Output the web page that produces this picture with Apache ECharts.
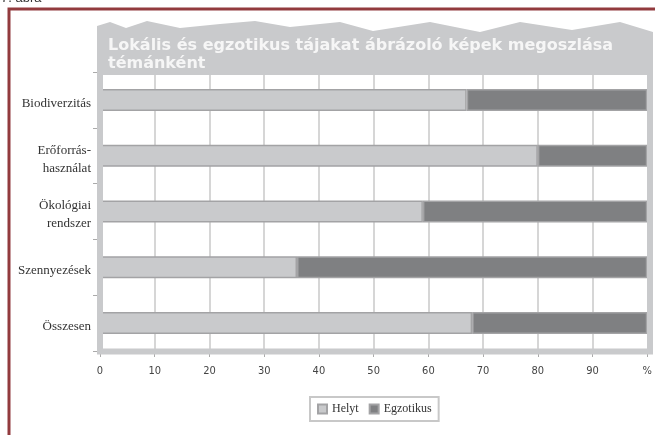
<!DOCTYPE html>
<html lang="hu" style="height: 100%">

<head>
  <meta charset="utf-8">
  <title>Lokális és egzotikus tájak</title>
</head>

<body style="height: 100%; margin: 0; background: #fff">
  <div id="container" style="width: 655px; height: 435px;"></div>

  <script type="text/javascript" src="https://cdn.jsdelivr.net/npm/echarts@6.0.0/dist/echarts.min.js"></script>
  <script type="text/javascript">
    // adatok
    var categories = ['Biodiverzitás', 'Erőforrás-\nhasználat', 'Ökológiai\nrendszer', 'Szennyezések', 'Összesen'];
    var helyiValues = [67, 80, 59, 36, 68];
    var egzotikusValues = [33, 20, 41, 64, 32];
    var xTickLabels = ['0', '10', '20', '30', '40', '50', '60', '70', '80', '90', '%'];
    var seriesNames = ['Helyt', 'Egzotikus'];

    var dom = document.getElementById('container');
    var myChart = echarts.init(dom, null, { renderer: 'canvas' });

    var lightGray = '#c9cacc';
    var darkGray = '#7f8082';
    var serifFont = '"Liberation Serif", "DejaVu Serif", serif';

    var option = {
      animation: false,
      backgroundColor: '#fff',
      grid: {
        left: 100,
        right: 5,
        top: 72,
        bottom: 84,
        show: true,
        backgroundColor: '#fff',
        borderWidth: 0
      },
      xAxis: {
        type: 'value',
        min: 0,
        max: 100,
        interval: 10,
        axisLine: { show: false },
        axisTick: { show: true, length: 6, lineStyle: { color: '#aaa' } },
        splitLine: { show: true, lineStyle: { color: '#d6d6d6', width: 2 } },
        axisLabel: {
          margin: 15,
          fontSize: 11,
          color: '#444',
          fontFamily: '"Liberation Sans Narrow", "DejaVu Sans Condensed", sans-serif',
          formatter: function (v) {
            return xTickLabels[Math.round(v / 10)];
          }
        }
      },
      yAxis: {
        type: 'category',
        data: categories,
        inverse: true,
        axisLine: { show: false },
        axisTick: { show: true, length: 7, lineStyle: { color: '#aaa' } },
        splitLine: { show: false },
        axisLabel: {
          margin: 9,
          color: '#333',
          // a feliratok kicsit lejjebb ülnek, mint a sávok közepe
          formatter: function (v) {
            return v.split('\n').map(function (s) { return '{l|' + s + '}'; }).join('\n');
          },
          rich: {
            l: {
              fontSize: 13,
              fontFamily: serifFont,
              color: '#333',
              lineHeight: 18,
              padding: [7, 0, 0, 0]
            }
          }
        }
      },
      legend: {
        left: 310,
        top: 397,
        data: seriesNames,
        icon: 'rect',
        itemWidth: 9,
        itemHeight: 9,
        itemGap: 10,
        padding: [6, 7],
        borderColor: '#c8c8c8',
        borderWidth: 2,
        textStyle: { fontFamily: serifFont, fontSize: 12, color: '#333' }
      },
      series: [
        {
          name: seriesNames[0],
          type: 'bar',
          stack: 'total',
          barWidth: 22,
          data: helyiValues,
          itemStyle: { color: lightGray, borderColor: '#a3a3a5', borderWidth: 1.5 }
        },
        {
          name: seriesNames[1],
          type: 'bar',
          stack: 'total',
          barWidth: 22,
          data: egzotikusValues,
          itemStyle: { color: darkGray, borderColor: '#a3a3a5', borderWidth: 1.5 }
        }
      ],
      graphic: [
        // külső piros keret
        {
          type: 'rect',
          shape: { x: 9, y: 9, width: 700, height: 480 },
          style: { fill: 'none', stroke: '#923b3e', lineWidth: 3 },
          z: 1
        },
        // ábra felirat (levágva)
        {
          type: 'text',
          x: 1,
          y: 5,
          style: { text: '7. ábra', font: '13px "Liberation Sans", sans-serif', fill: '#333', verticalAlign: 'bottom' }
        },
        // szürke keret a rajzterület körül
        {
          type: 'rect',
          shape: { x: 100, y: 72, width: 550, height: 279.5 },
          style: { fill: 'none', stroke: lightGray, lineWidth: 6 },
          z: 9
        },
        // cím szalag
        {
          type: 'polygon',
          shape: {
            points: [[97, 26], [110, 22], [126, 28], [147, 21], [180, 28], [220, 24], [255, 21],
              [290, 27], [340, 22], [373, 31], [430, 22], [480, 32], [520, 22], [572, 30],
              [620, 22], [653, 32], [653, 75], [97, 75]]
          },
          style: { fill: lightGray },
          z: 10
        },
        {
          type: 'text',
          x: 108,
          y: 37,
          z: 11,
          style: {
            text: 'Lokális és egzotikus tájakat ábrázoló képek megoszlása\ntémánként',
            font: 'bold 16px "DejaVu Sans", sans-serif',
            lineHeight: 18,
            fill: '#f6f6f6',
            shadowColor: 'rgba(255,255,255,0.6)',
            shadowBlur: 2
          }
        }
      ]
    };

    myChart.setOption(option);
  </script>
</body>

</html>
